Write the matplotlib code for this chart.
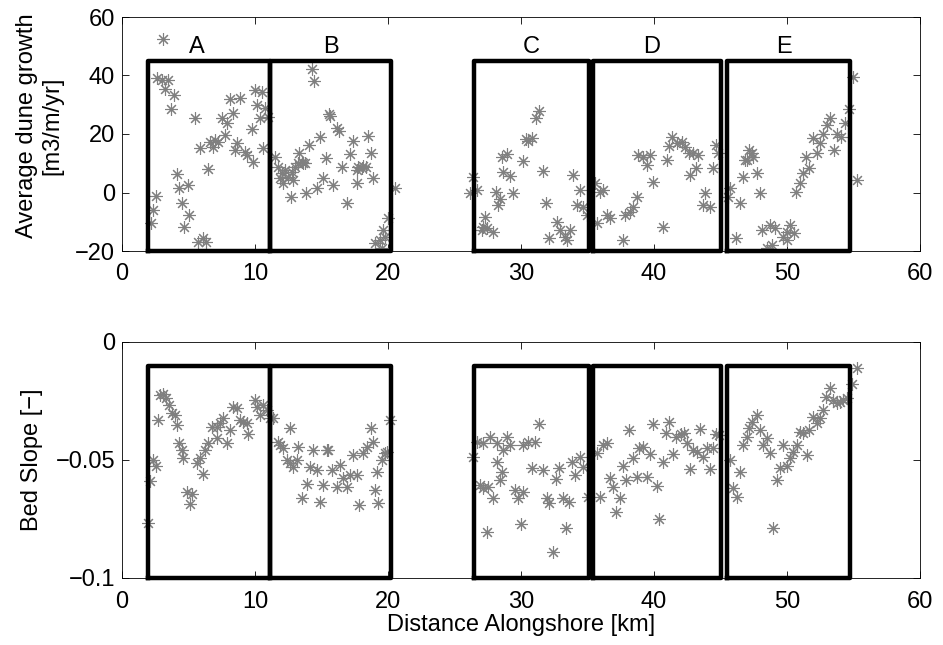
import matplotlib
matplotlib.use('Agg')
import matplotlib.pyplot as plt

plt.rcParams['font.family'] = ['Liberation Sans', 'DejaVu Sans']
plt.rcParams['font.size'] = 17

# dune growth [m3/m/yr] vs alongshore distance [km]
growth_km = [3.06, 2.65, 2.98, 3.48, 3.23, 3.93, 3.68, 5.49, 2.53, 2.36, 2.16, 4.11, 4.31, 4.94,
             4.49, 5.06, 4.68, 5.74, 6.11, 6.32, 6.49, 5.86, 6.62, 6.99, 6.86, 7.24, 7.74, 7.87,
             7.50, 8.12, 8.87, 8.37, 8.62, 8.50, 9.25, 9.38, 9.87, 9.75, 10.0, 10.5, 10.13, 10.75,
             10.38, 11.0, 10.6, 14.26, 14.44, 15.59, 15.64, 16.19, 16.34, 14.89, 14.08, 13.33,
             13.59, 13.76, 15.34, 16.52, 17.14, 17.39, 18.52, 18.70, 17.77, 18.02, 18.35, 17.65,
             18.14, 18.90, 17.69, 16.94, 15.89, 15.09, 14.68, 13.83, 12.68, 11.50, 11.75, 12.0,
             12.26, 12.5, 12.76, 13.0, 12.88, 12.13, 11.88, 13.26, 13.51, 20.53, 20.02, 19.65,
             19.77, 19.02, 19.53, 19.40, 26.41, 26.17, 26.67, 27.29, 27.17, 27.42, 27.92, 27.05,
             28.12, 28.42, 28.29, 29.38, 28.67, 29.17, 28.55, 28.97, 30.12, 30.38, 30.80, 30.55,
             31.13, 31.38, 31.68, 31.88, 32.68, 32.93, 33.31, 32.13, 33.68, 33.43, 33.93, 34.44,
             34.19, 34.68, 34.94, 35.94, 36.19, 35.56, 36.44, 36.69, 35.69, 37.65, 37.82, 38.20,
             38.45, 38.70, 39.90, 40.65, 38.82, 39.20, 39.70, 39.45, 40.95, 41.33, 41.15, 41.71,
             42.08, 42.33, 42.65, 42.95, 43.33, 42.71, 43.16, 43.83, 43.71, 44.21, 44.46, 44.66,
             44.83, 46.84, 46.71, 46.2, 45.71, 45.59, 46.47, 47.72, 47.97, 47.17, 46.97, 47.47,
             47.34, 48.10, 48.72, 49.10, 48.47, 48.85, 49.72, 49.98, 50.23, 50.53, 49.98, 50.68,
             50.98, 51.18, 51.68, 51.43, 52.23, 51.93, 52.48, 52.73, 52.98, 53.23, 53.53, 53.74,
             54.04, 54.36, 54.68, 54.98, 55.24]
growth_val = [52.4, 39.0, 38.5, 38.5, 35.3, 33.3, 28.5, 25.4, -1.2, -6.0, -10.5, 6.3, 1.4, 2.6,
              -3.7, -7.7, -11.7, -16.8, -15.7, -16.8, 7.9, 15.1, 17.4, 18.0, 15.7, 17.4, 19.7, 23.7,
              25.4, 31.9, 32.2, 27.1, 16.8, 14.5, 13.9, 12.8, 10.5, 21.6, 35.0, 34.5, 29.9, 28.8,
              25.4, 25.9, 15.1, 42.1, 38.2, 26.8, 26.2, 21.9, 21.1, 19.1, 16.2, 13.6,
              10.2, 10.0, 11.7, 8.8, 13.2, 17.7, 19.3, 13.6, 8.8, 8.3, 8.8, 7.7,
              9.1, 4.9, 3.4, -3.7, 2.6, 4.9, 1.4, -0.1, -1.4, 12.2, 8.8, 6.5,
              7.7, 5.4, 7.1, 8.8, 4.3, 3.1, 4.9, 10.0, 10.5, 1.4, -8.8, -12.8,
              -15.1, -17.4, -19.1, -16.2, 5.4, -0.3, 0.9, -8.3, -11.7, -12.2, -13.4, -12.8,
              0.3, -2.3, -4.3, -0.3, 7.1, 5.6, 12.2, 13.2, 10.9, 18.2, 18.5, 17.7,
              25.4, 28.0, 7.4, -3.5, -10.0, -12.8, -15.1, -15.7, -12.8, -16.2, 6.0, 0.9,
              -4.3, -4.9, -7.7, 0.3, 0.9, 3.1, -7.7, -8.8, -10.5, -16.2, -7.7, -6.6,
              -4.9, -1.4, 3.7, -11.9, 12.8, 12.2, 12.8, 9.4, 11.1, 19.1, 15.9, 16.8,
              17.4, 15.5, 13.4, 13.4, 12.8, 6.0, 8.3, -0.1, -4.3, -4.9, 8.3, 16.2,
              13.4, 11.1, 5.4, -15.7, 1.4, -1.4, -3.7, 6.8, -0.1, 14.5, 11.1, 12.2,
              13.4, -12.8, -11.1, -12.2, -19.1, -17.9, -15.1, -16.2, -11.1, -13.7, -13.4, 0.3,
              3.1, 6.5, 8.3, 12.2, 13.4, 18.5, 16.8, 20.0, 23.1, 25.4, 14.5, 20.0,
              19.1, 23.7, 28.5, 39.6, 4.3]

# bed slope [-] vs alongshore distance [km]
slope_km = [1.98, 2.11, 2.35, 2.56, 2.73, 2.86, 3.11, 3.31, 3.56, 3.74, 3.98, 4.16, 4.31, 4.49,
            4.61, 4.86, 5.24, 5.11, 5.62, 5.86, 6.11, 6.24, 6.49, 6.74, 7.12, 7.12, 7.37, 7.62,
            7.87, 8.12, 8.37, 8.62, 8.87, 9.12, 9.38, 9.50, 10.0, 10.13, 10.38, 10.62, 10.88, 11.13,
            11.38, 11.75, 11.88, 12.13, 12.38, 12.63, 12.88, 13.13, 13.26, 12.63,
            13.51, 13.89, 14.14, 14.39, 14.64, 14.89, 15.14, 15.39, 15.51, 15.77, 16.14, 16.39,
            16.64, 16.89, 17.14, 17.39, 17.65, 17.84, 18.14, 18.40, 18.70, 18.90, 19.02, 19.15,
            19.27, 19.53, 19.90, 20.15, 19.77,
            26.41, 26.67, 27.17, 27.67, 28.17, 28.67, 28.92, 29.17, 30.17, 30.55, 31.05, 31.38,
            26.92, 27.17, 27.54, 27.92, 27.42, 28.17, 28.55, 28.42, 29.55, 29.80, 30.13, 29.98,
            30.80, 31.68, 31.93, 32.13, 32.63, 32.88, 33.18, 33.63, 33.38, 32.38,
            33.81, 34.06, 34.44, 34.68, 35.06, 35.94, 35.69, 36.19, 36.44,
            36.69, 36.94, 37.44, 37.14, 37.69, 37.89, 38.39, 38.70, 38.89, 39.15, 39.45, 39.70,
            40.20, 40.40, 40.65, 41.41, 38.15, 39.90, 41.15, 40.90, 41.65, 42.01, 42.26, 42.46,
            42.71, 42.91, 43.21, 43.46, 43.71, 43.96, 44.21, 44.41, 44.66, 44.91,
            45.71, 45.96, 46.22, 46.47, 46.67, 46.97, 47.17, 47.35, 47.72, 47.97, 48.17, 48.47,
            48.72, 48.97, 49.22, 49.47, 49.72, 49.98, 50.23, 50.48, 50.73, 50.98, 51.23, 51.48,
            51.68, 51.98, 52.23, 52.48, 52.73, 52.93, 53.23, 53.48, 53.74, 53.98, 54.23, 54.49,
            54.86, 55.24]
slope_val = [-0.0768, -0.0589, -0.0500, -0.0524, -0.0331, -0.0225, -0.0222, -0.0239, -0.0267,
             -0.0302, -0.0309, -0.0352, -0.0429, -0.0458, -0.0490, -0.0634, -0.0645, -0.0688,
             -0.0514, -0.0493, -0.0561, -0.0458, -0.0429, -0.0359, -0.0359, -0.0408, -0.0345,
             -0.0324, -0.0429, -0.0373, -0.0274, -0.0281, -0.0331, -0.0338, -0.0345, -0.0391,
             -0.0246, -0.0274, -0.0309, -0.0267, -0.0288, -0.0323,
             -0.0323, -0.0422, -0.0436, -0.0450, -0.0500, -0.0514, -0.0528, -0.0500, -0.0444, -0.0366,
             -0.0663, -0.0603, -0.0528, -0.0458, -0.0542, -0.0676, -0.0606, -0.0458, -0.0458,
             -0.0542, -0.0613, -0.0521, -0.0578, -0.0613, -0.0564, -0.0479, -0.0564, -0.0691,
             -0.0472, -0.0444, -0.0366, -0.0422, -0.0627, -0.0549, -0.0684, -0.0500, -0.0465,
             -0.0331, -0.0472,
             -0.0486, -0.0422, -0.0429, -0.0401, -0.0429, -0.0458, -0.0401, -0.0436, -0.0436,
             -0.0422, -0.0422, -0.0349,
             -0.0606, -0.0620, -0.0613, -0.0662, -0.0804, -0.0507, -0.0549, -0.0585, -0.0627,
             -0.0662, -0.0634, -0.0773,
             -0.0535, -0.0542, -0.0662, -0.0683, -0.0581, -0.0533, -0.0660, -0.0677, -0.0787, -0.0889,
             -0.0507, -0.0564, -0.0486, -0.0528, -0.0655, -0.0655, -0.0472, -0.0436, -0.0429,
             -0.0577, -0.0613, -0.0662, -0.0720, -0.0524, -0.0585, -0.0493, -0.0572, -0.0451,
             -0.0444, -0.0572, -0.0473, -0.0609, -0.0750, -0.0510, -0.0476, -0.0373, -0.0349,
             -0.0340, -0.0387, -0.0401, -0.0391, -0.0387, -0.0429, -0.0538, -0.0458, -0.0465,
             -0.0369, -0.0486, -0.0451, -0.0538, -0.0451, -0.0391, -0.0394,
             -0.0500, -0.0620, -0.0655, -0.0552, -0.0436, -0.0401, -0.0366, -0.0338, -0.0309,
             -0.0373, -0.0436, -0.0408, -0.0472, -0.0787, -0.0585, -0.0535, -0.0436, -0.0524,
             -0.0493, -0.0465, -0.0436, -0.0380, -0.0387, -0.0479, -0.0373, -0.0316, -0.0345,
             -0.0324, -0.0288, -0.0232, -0.0197, -0.0246, -0.0260, -0.0254, -0.0246, -0.0239,
             -0.0176, -0.0110]

# coastal sections
box_names = ['A', 'B', 'C', 'D', 'E']
box_left = [1.95, 11.15, 26.45, 35.4, 45.5]
box_right = [11.15, 20.2, 35.1, 45.05, 54.75]
box_label_x = [5.6, 15.7, 30.8, 39.8, 49.8]

W, H = 943, 645
fig = plt.figure(figsize=(W / 100, H / 100), dpi=100)
ax1 = fig.add_axes([122 / W, 1 - 251 / H, 798 / W, 234 / H])
ax2 = fig.add_axes([122 / W, 1 - 578 / H, 798 / W, 236 / H])

grey = '#808080'
mk = dict(ls='none', marker=(8, 2, 0), ms=9, mew=0.8, color=grey)

ax1.plot(growth_km, growth_val, **mk)
for l, r in zip(box_left, box_right):
    ax1.plot([l, r, r, l, l], [-20, -20, 45, 45, -20], 'k-', lw=3.2, clip_on=False)
for name, x in zip(box_names, box_label_x):
    ax1.text(x, 49.8, name, ha='center', va='center', fontsize=17)
ax1.set_xlim(0, 60)
ax1.set_ylim(-20, 60)
ax1.set_yticks([-20, 0, 20, 40, 60])
ax1.set_ylabel('Average dune growth\n[m3/m/yr]')
ax1.yaxis.set_label_coords(-0.074, 0.535)

ax2.plot(slope_km, slope_val, **mk)
for l, r in zip(box_left, box_right):
    ax2.plot([l, r, r, l, l], [-0.1, -0.1, -0.01, -0.01, -0.1], 'k-', lw=3.2, clip_on=False)
ax2.set_xlim(0, 60)
ax2.set_ylim(-0.1, 0)
ax2.set_yticks([-0.1, -0.05, 0])
ax2.set_yticklabels(['\u22120.1', '\u22120.05', '0'])
ax2.set_ylabel('Bed Slope [\u2212]', labelpad=9)
ax2.set_xlabel('Distance Alongshore [km]', labelpad=1)

for ax in (ax1, ax2):
    ax.set_xticks([0, 10, 20, 30, 40, 50, 60])
    ax.tick_params(direction='in', top=True, right=True, length=5, width=0.6, labelsize=17)
    ax.tick_params(axis='y', pad=5)
    ax.tick_params(axis='x', pad=9)
    for s in ax.spines.values():
        s.set_linewidth(0.6)

fig.savefig('out.png', dpi=100)
